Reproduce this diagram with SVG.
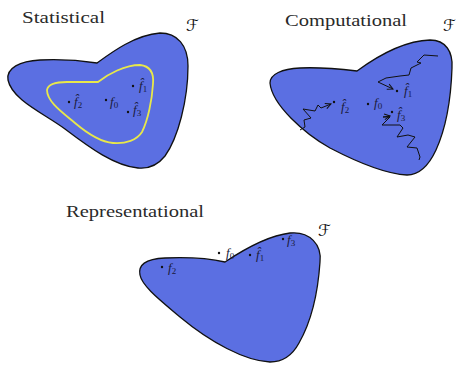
<svg xmlns="http://www.w3.org/2000/svg" width="460" height="366" viewBox="0 0 460 366">
<defs>
<style>
.region{fill:#5b6fe2;stroke:#111;stroke-width:1.3}
.title{font-family:"Liberation Serif",serif;font-size:16px;fill:#2a2a2a}
.m{font-family:"Liberation Serif",serif;font-style:italic;font-size:13px;fill:#1a1a3a}
.sub{font-size:9px;font-style:normal}
.cal{font-family:"DejaVu Sans","Noto Sans",sans-serif;font-style:normal;font-weight:normal;font-size:16px;fill:#111}
.dot{fill:#111}
.zig{fill:none;stroke:#111;stroke-width:1}
</style>
<marker id="ar" viewBox="0 0 10 10" refX="9" refY="5" markerWidth="7" markerHeight="7" orient="auto" markerUnits="userSpaceOnUse">
<path d="M1,1 L9,5 L1,9" fill="none" stroke="#111" stroke-width="1.4"/>
</marker>
</defs>
<rect width="460" height="366" fill="#fff"/>

<g id="statistical">
<text class="title" x="22" y="23" textLength="83" lengthAdjust="spacingAndGlyphs">Statistical</text>
<text class="cal" x="186" y="31">ℱ</text>
<path class="region" d="M8,80 C6,68 20,61 40,60 C62,59 84,61 97,63 C112,52 135,35 160,33 C177,33 188,45 188,66 C188,100 178,138 165,156 C157,166 148,169 138,168 C115,166 90,148 65,129 C45,114 12,100 8,80 Z"/>
<path d="M47,90 C48,84 56,82 67,82 C80,82 92,82 98,82 C108,74 125,65 140,65 C150,66 154,73 153,84 C152,100 148,120 142,132 C137,140 126,144 113,143 C100,142 88,134 75,123 C63,113 47,102 47,90 Z" fill="none" stroke="#e8e84a" stroke-width="1.8"/>
<circle class="dot" cx="133" cy="86" r="1.2"/>
<text class="m" x="139" y="90">f̂<tspan class="sub" dy="2">1</tspan></text>
<circle class="dot" cx="69" cy="102" r="1.2"/>
<text class="m" x="74" y="106">f̂<tspan class="sub" dy="2">2</tspan></text>
<circle class="dot" cx="106" cy="100" r="1.2"/>
<text class="m" x="110" y="106">f<tspan class="sub" dy="2">0</tspan></text>
<circle class="dot" cx="128" cy="112" r="1.2"/>
<text class="m" x="133" y="114">f̂<tspan class="sub" dy="2">3</tspan></text>
</g>

<g id="computational">
<text class="title" x="285" y="26" textLength="122" lengthAdjust="spacingAndGlyphs">Computational</text>
<text class="cal" x="443" y="31">ℱ</text>
<path class="region" d="M270,83 C270,74 282,69 300,68 C320,67 340,69 357,71 C372,60 400,41 430,40 C446,40 453,52 452,68 C451,98 446,128 436,150 C429,165 419,175 407,175 C385,174 355,161 330,148 C305,134 272,105 270,83 Z"/>
<circle class="dot" cx="397" cy="91" r="1.2"/>
<text class="m" x="404" y="95">f̂<tspan class="sub" dy="2">1</tspan></text>
<circle class="dot" cx="334" cy="102" r="1.2"/>
<text class="m" x="341" y="111">f̂<tspan class="sub" dy="2">2</tspan></text>
<circle class="dot" cx="368" cy="104" r="1.2"/>
<text class="m" x="374" y="107">f<tspan class="sub" dy="2">0</tspan></text>
<circle class="dot" cx="392" cy="112" r="1.2"/>
<text class="m" x="397" y="119">f̂<tspan class="sub" dy="2">3</tspan></text>
</g>

<g id="representational">
<text class="title" x="66" y="217" textLength="138" lengthAdjust="spacingAndGlyphs">Representational</text>
<text class="cal" x="318" y="236">ℱ</text>
<path class="region" d="M140,275 C138,265 145,259 165,258 C190,257 212,259 225,262 C240,252 265,236 290,233 C310,231 322,245 320,262 C318,292 311,322 299,343 C292,356 282,362 270,362 C245,361 210,342 180,317 C160,300 142,286 140,275 Z"/>
<circle class="dot" cx="162" cy="267" r="1.2"/>
<text class="m" x="168" y="272">f<tspan class="sub" dy="2">2</tspan></text>
<circle class="dot" cx="219" cy="253" r="1.2"/>
<text class="m" x="226" y="257">f<tspan class="sub" dy="2">0</tspan></text>
<circle class="dot" cx="250" cy="255" r="1.2"/>
<text class="m" x="256" y="259">f̂<tspan class="sub" dy="2">1</tspan></text>
<circle class="dot" cx="283" cy="239" r="1.2"/>
<text class="m" x="287" y="244">f<tspan class="sub" dy="2">3</tspan></text>
</g>

<g id="connectors">
<path class="zig" marker-end="url(#ar)" d="M438,56 L424,55 L417,62 L421,63 L411,68 L409,75 L400,76 L386,78 L378,82 L393,89"/>
<path class="zig" marker-end="url(#ar)" d="M300,130 L305,127 L304,120 L311,118 L303,109 L315,111 L318,105 L321,108 L331,104"/>
<path class="zig" marker-end="url(#ar)" d="M419,160 L420,157 L417,148 L407,147 L415,137 L408,135 L397,137 L403,128 L400,125 L382,125 L390,117 L383,117 L390,116"/>
</g>
</svg>
